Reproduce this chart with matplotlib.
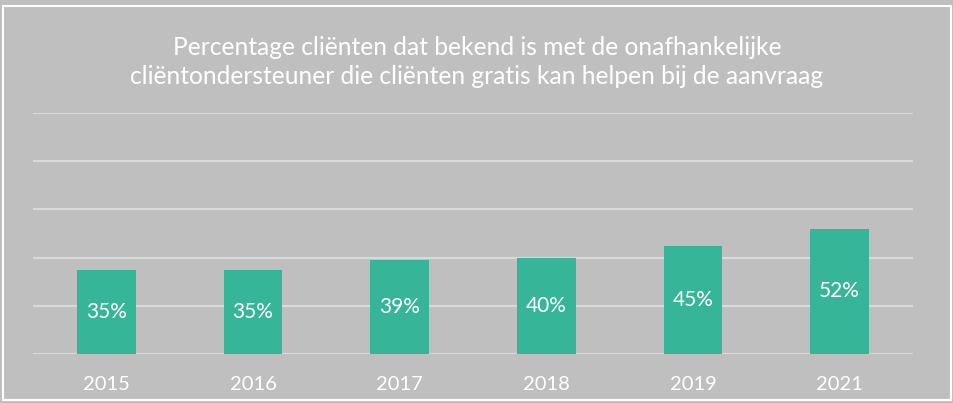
import matplotlib.pyplot as plt
from matplotlib.patches import Rectangle

years = ['2015', '2016', '2017', '2018', '2019', '2021']
percentages = [35, 35, 39, 40, 45, 52]
title = ('Percentage cliënten dat bekend is met de onafhankelijke\n'
         'cliëntondersteuner die cliënten gratis kan helpen bij de aanvraag')

bg = '#bfbfbf'
bar_color = '#36b598'
grid_color = '#d9d9d9'

plt.rcParams['font.family'] = ['Lato', 'DejaVu Sans']

fig = plt.figure(figsize=(9.54, 4.03), dpi=100, facecolor=bg)
# white frame around the chart
fig.patches.append(Rectangle((3 / 954, 3 / 403), 948 / 954, 394 / 403,
                             transform=fig.transFigure, fill=False,
                             edgecolor='white', linewidth=1.5))

ax = fig.add_axes([33 / 954, 49 / 403, 880 / 954, 241 / 403])
ax.set_facecolor(bg)

x = list(range(len(years)))
bars = ax.bar(x, percentages, width=0.4, color=bar_color, zorder=3)
for b, v in zip(bars, percentages):
    ax.text(b.get_x() + b.get_width() / 2, v / 2, f'{v}%',
            ha='center', va='center', color='white', fontsize=15, zorder=4)

ax.set_xlim(-0.5, len(years) - 0.5)
ax.set_ylim(0, 100)
ax.set_yticks([0, 20, 40, 60, 80, 100])
ax.yaxis.grid(True, color=grid_color, linewidth=1.5, zorder=0)
ax.tick_params(axis='y', left=False, labelleft=False)
ax.set_xticks(x)
ax.set_xticklabels(years, color='white', fontsize=14.5)
ax.tick_params(axis='x', length=0, pad=16)
for s in ax.spines.values():
    s.set_visible(False)

fig.text(0.5, 1 - 62 / 403, title, ha='center', va='center', color='white',
         fontsize=17.7, linespacing=1.33)

fig.savefig('out.png', dpi=100, facecolor=bg)
